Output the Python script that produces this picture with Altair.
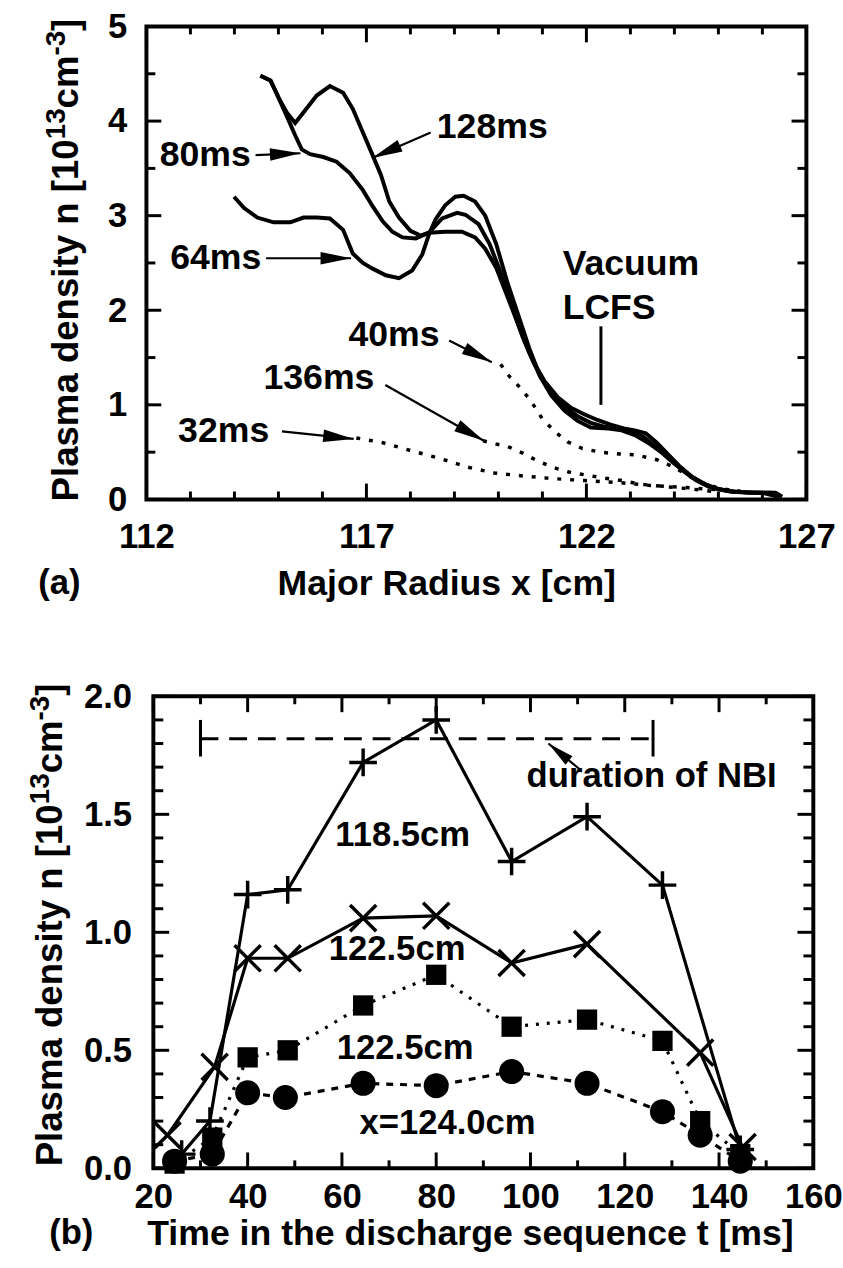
import math
import altair as alt
import pandas as pd

FONT = "Liberation Sans"

# ---------------- panel (a) data ----------------
x64 = [113.99, 114.22, 114.52, 114.89, 115.27, 115.57, 115.87, 116.17, 116.47, 116.69, 116.92, 117.14,
       117.44, 117.74, 118.04, 118.27, 118.42, 118.57, 118.79, 119.02, 119.21, 119.47, 119.7, 119.95,
       120.2, 120.45, 120.7, 120.95, 121.2, 121.5, 121.8, 122.1, 122.5, 122.8, 123.1, 123.4, 123.7,
       124.0, 124.3, 124.6, 124.9, 125.3, 125.8, 126.3, 126.45]
n64 = [3.20, 3.08, 2.98, 2.93, 2.93, 2.98, 2.98, 2.97, 2.85, 2.60, 2.50, 2.44,
       2.37, 2.34, 2.42, 2.59, 2.80, 2.96, 3.11, 3.20, 3.21, 3.15, 3.0, 2.7,
       2.3, 1.95, 1.6, 1.3, 1.1, 0.94, 0.83, 0.76, 0.75, 0.73, 0.68, 0.6, 0.5,
       0.38, 0.27, 0.18, 0.12, 0.08, 0.07, 0.07, 0.03]

x80 = [114.59, 114.82, 115.0, 115.23, 115.38, 115.53, 115.72, 116.02, 116.32, 116.62, 116.92, 117.14,
       117.37, 117.59, 117.82, 118.12, 118.42, 118.79, 119.17, 119.47, 119.7, 119.95, 120.2, 120.45,
       120.7, 120.95, 121.2, 121.5, 121.8, 122.1, 122.4, 122.7, 123.0, 123.3, 123.6, 123.9, 124.2,
       124.5, 124.8, 125.2, 125.7, 126.2, 126.4]
n80 = [4.48, 4.43, 4.25, 4.01, 3.85, 3.70, 3.65, 3.62, 3.57, 3.45, 3.27, 3.10,
       2.94, 2.83, 2.77, 2.76, 2.82, 2.83, 2.83, 2.77, 2.65, 2.45, 2.15, 1.85,
       1.55, 1.3, 1.12, 0.98, 0.88, 0.81, 0.77, 0.76, 0.72, 0.66, 0.55, 0.42, 0.3,
       0.2, 0.13, 0.09, 0.07, 0.07, 0.03]

x128 = [114.59, 114.82, 115.0, 115.19, 115.38, 115.6, 115.87, 116.17, 116.47, 116.69, 116.92, 117.14,
        117.33, 117.52, 117.74, 118.0, 118.23, 118.42, 118.72, 119.06, 119.25, 119.55, 119.8, 120.05,
        120.3, 120.55, 120.8, 121.05, 121.35, 121.65, 121.95, 122.25, 122.55, 122.85, 123.1, 123.35,
        123.6, 123.85, 124.1, 124.4, 124.7, 125.0, 125.4, 126.0, 126.35]
n128 = [4.48, 4.43, 4.25, 4.09, 3.98, 4.11, 4.27, 4.37, 4.30, 4.13, 3.88, 3.64,
        3.43, 3.15, 2.98, 2.84, 2.79, 2.82, 2.97, 3.03, 3.01, 2.91, 2.7, 2.4,
        2.05, 1.72, 1.45, 1.25, 1.08, 0.97, 0.9, 0.84, 0.79, 0.75, 0.73, 0.7,
        0.6, 0.48, 0.36, 0.24, 0.16, 0.11, 0.08, 0.07, 0.03]

x40 = [120.05, 120.25, 120.5, 120.74, 121.0, 121.3, 121.57, 121.9, 122.31, 122.76, 123.14, 123.6,
       124.0, 124.5, 125.0, 125.5]
n40 = [1.43, 1.30, 1.18, 1.04, 0.85, 0.71, 0.61, 0.54, 0.50, 0.48, 0.47, 0.42,
       0.34, 0.2, 0.12, 0.08]

x136 = [119.65, 119.91, 120.21, 120.55, 120.92, 121.3, 121.6, 121.97, 122.35, 122.8, 123.25, 123.7,
        124.15, 124.6, 124.97]
n136 = [0.62, 0.59, 0.56, 0.49, 0.40, 0.33, 0.29, 0.26, 0.23, 0.20, 0.16, 0.14,
        0.12, 0.10, 0.08]

x32 = [116.77, 117.37, 117.98, 118.70, 119.31, 119.91, 120.51, 121.24, 121.96, 122.69, 123.41,
       124.14, 124.74, 125.59]
n32 = [0.65, 0.60, 0.52, 0.43, 0.34, 0.28, 0.25, 0.22, 0.20, 0.18, 0.15,
       0.13, 0.11, 0.085]

a_labels = ["128ms", "80ms", "64ms", "40ms", "136ms", "32ms", "Vacuum", "LCFS"]
a_lab_x = [118.6, 112.3, 112.54, 116.59, 114.66, 112.72, 121.46, 121.46]
a_lab_y = [3.94, 3.64, 2.55, 1.74, 1.28, 0.72, 2.49, 2.02]

a_arr_x0 = [118.46, 114.48, 114.72, 118.88, 117.43, 115.08]
a_arr_y0 = [3.88, 3.64, 2.55, 1.68, 1.21, 0.72]
a_arr_x1 = [117.13, 115.5, 116.65, 119.85, 119.67, 116.71]
a_arr_y1 = [3.61, 3.66, 2.55, 1.45, 0.62, 0.64]

lcfs_x = [122.33]
lcfs_y0 = [1.0]
lcfs_y1 = [1.83]

a_xmajor = [112, 117, 122, 127]
a_xminor = [113, 114, 115, 116, 118, 119, 120, 121, 123, 124, 125, 126]
a_ymajor = [0, 1, 2, 3, 4, 5]
a_yminor = [0.5, 1.5, 2.5, 3.5, 4.5]

# ---------------- panel (b) data ----------------
t_plus = [26, 32, 40, 48.5, 64.5, 80, 96, 112, 128, 144.5]
n_plus = [0.06, 0.2, 1.16, 1.18, 1.72, 1.9, 1.3, 1.49, 1.2, 0.08]
t_cross = [23, 33, 40, 48.5, 64.5, 80, 96, 112, 136, 145]
n_cross = [0.14, 0.43, 0.89, 0.89, 1.06, 1.07, 0.87, 0.95, 0.49, 0.09]
t_sq = [24.5, 32.5, 40, 48.5, 64.5, 80, 96, 112, 128, 136, 144.5]
n_sq = [0.02, 0.13, 0.47, 0.5, 0.69, 0.82, 0.6, 0.63, 0.54, 0.2, 0.06]
t_ci = [24.5, 32.5, 40, 48, 64.5, 80, 96, 112, 128, 136, 144.5]
n_ci = [0.03, 0.06, 0.32, 0.3, 0.36, 0.35, 0.41, 0.36, 0.24, 0.14, 0.03]

b_labels = ["118.5cm", "122.5cm", "122.5cm", "x=124.0cm", "duration of NBI"]
b_lab_t = [72.9, 71.7, 73.4, 82.4, 125.7]
b_lab_n = [1.41, 0.93, 0.51, 0.19, 1.66]

nbi_t0 = [30]
nbi_t1 = [126]
nbi_n = [1.82]
nbi_cap_lo = [1.745]
nbi_cap_hi = [1.90]

b_arr_x0 = [110.5]
b_arr_y0 = [1.69]
b_arr_x1 = [103.8]
b_arr_y1 = [1.80]

b_xmajor = [20, 40, 60, 80, 100, 120, 140, 160]
b_xminor = [30, 50, 70, 90, 110, 130, 150]
b_ymajor = [0, 0.5, 1.0, 1.5, 2.0]
b_yminor = [0.1, 0.2, 0.3, 0.4, 0.6, 0.7, 0.8, 0.9, 1.1, 1.2, 1.3, 1.4, 1.6, 1.7, 1.8, 1.9]

# y-axis title pieces (with real superscripts)
ytitle_text = ["Plasma density n [10", "13", "cm", "-3", "]"]
ytitle_sup = [False, True, False, True, False]

# ---------------- layout constants ----------------
A_W, A_H = 667, 478
B_W, B_H = 674, 477
B_X0 = 7
ONE = pd.DataFrame({"k": [0]})
TF, SF = 37, 28  # title font size, superscript font size

# Arial/Liberation Sans Bold advance widths (per 1000 em)
ADV = {"P": 667, "l": 278, "a": 556, "s": 556, "m": 889, " ": 278, "d": 611, "e": 556,
       "n": 611, "i": 278, "t": 333, "y": 556, "[": 333, "]": 333, "1": 556, "0": 556,
       "3": 556, "c": 556, "-": 333}


def text_w(s, size):
    return sum(ADV.get(ch, 556) for ch in s) * size / 1000.0


def ytitle_layers(xb, ystart):
    out = []
    off = 0.0
    for txt, sup in zip(ytitle_text, ytitle_sup):
        fs = SF if sup else TF
        xx = xb - (13 if sup else 0)
        out.append(alt.Chart(pd.DataFrame({"t": [txt]})).mark_text(
            align="left", baseline="alphabetic", angle=270, font=FONT, fontSize=fs,
            fontWeight="bold", color="black").encode(
            x=alt.value(xx), y=alt.value(ystart - off), text="t:N"))
        off += text_w(txt, fs)
    return out


def arrow_frame(x0, y0, x1, y1, sx, sy):
    ang = [(math.degrees(math.atan2((b - a) * sx, (d - c) * sy)) + 360) % 360
           for a, c, b, d in zip(x0, y0, x1, y1)]
    return pd.DataFrame({"x0": x0, "y0": y0, "x1": x1, "y1": y1, "ang": ang})


def series(xs, ys):
    return pd.DataFrame({"x": xs, "y": ys})


HEAD = "M0,0L-0.45,2.2L0.45,2.2Z"
PLUS = "M-1,0L1,0M0,-1L0,1"
CROSS = "M-1,-1L1,1M-1,1L1,-1"


def build_panel(xs, ys, ax_x, ax_y, W, H, fx0, fx1, xmaj, xmin, ymaj, ymin, L):
    def X(f):
        return alt.X(f + ":Q", scale=xs, axis=ax_x)

    def Y(f):
        return alt.Y(f + ":Q", scale=ys, axis=ax_y)

    layers = []
    frame = alt.Chart(ONE).mark_rect(filled=False, stroke="black", strokeWidth=4).encode(
        x=alt.value(fx0), x2=alt.value(fx1), y=alt.value(0), y2=alt.value(H))
    layers.append(frame)
    for vals, ln in ((xmaj, L[0]), (xmin, L[1])):
        d = pd.DataFrame({"v": vals})
        layers.append(alt.Chart(d).mark_rule(color="black", strokeWidth=3).encode(
            x=X("v"), y=alt.value(H), y2=alt.value(H - ln)))
        layers.append(alt.Chart(d).mark_rule(color="black", strokeWidth=3).encode(
            x=X("v"), y=alt.value(0), y2=alt.value(ln)))
    for vals, ln in ((ymaj, L[2]), (ymin, L[3])):
        d = pd.DataFrame({"v": vals})
        layers.append(alt.Chart(d).mark_rule(color="black", strokeWidth=3).encode(
            y=Y("v"), x=alt.value(fx0), x2=alt.value(fx0 + ln)))
        layers.append(alt.Chart(d).mark_rule(color="black", strokeWidth=3).encode(
            y=Y("v"), x=alt.value(fx1), x2=alt.value(fx1 - ln)))
    return X, Y, layers


def axis(values, fmt, pad, title=None, tx=0, ty=0, fs=35, tfs=36):
    kw = dict(values=values, format=fmt, ticks=False, tickSize=0, domain=False, grid=False,
              labelFont=FONT, labelFontSize=fs, labelFontWeight="bold", labelColor="black",
              labelPadding=pad, labelFlush=False, labelOverlap=False)
    if title is None:
        kw["title"] = None
    else:
        kw.update(title=title, titleFont=FONT, titleFontSize=tfs, titleFontWeight="bold",
                  titleColor="black", titleX=tx, titleY=ty, titleAngle=0,
                  titleAlign="center", titleBaseline="middle")
    return alt.Axis(**kw)


# ---------------- panel (a) ----------------
sxa = alt.Scale(domain=[112, 127], nice=False, zero=False)
sya = alt.Scale(domain=[0, 5], nice=False, zero=False)
axa_x = axis(a_xmajor, "d", 21, "Major Radius x [cm]", 303, 85)
axa_y = axis(a_ymajor, "d", 20)
XA, YA, la = build_panel(sxa, sya, axa_x, axa_y, A_W, A_H, 0, A_W,
                         a_xmajor, a_xminor, a_ymajor, a_yminor, (16, 8, 15, 9))

anchor = alt.Chart(ONE).mark_rect(opacity=0).encode(
    x=alt.value(-148), x2=alt.value(695), y=alt.value(-20), y2=alt.value(1248))
la.insert(0, anchor)

for xs_, ys_ in ((x64, n64), (x80, n80), (x128, n128)):
    la.append(alt.Chart(series(xs_, ys_)).mark_line(color="black", strokeWidth=4).encode(
        x=XA("x"), y=YA("y")))
for xs_, ys_ in ((x40, n40), (x136, n136), (x32, n32)):
    la.append(alt.Chart(series(xs_, ys_)).mark_line(color="black", strokeWidth=3.5,
                                                    strokeDash=[4, 9]).encode(
        x=XA("x"), y=YA("y")))

arrA = arrow_frame(a_arr_x0, a_arr_y0, a_arr_x1, a_arr_y1, A_W / 15, A_H / 5)
la.append(alt.Chart(arrA).mark_rule(color="black", strokeWidth=2.2).encode(
    x=XA("x0"), x2="x1:Q", y=YA("y0"), y2="y1:Q"))
la.append(alt.Chart(arrA).mark_point(shape=HEAD, filled=True, color="black", size=784,
                                     opacity=1).encode(
    x=XA("x1"), y=YA("y1"), angle=alt.Angle("ang:Q", scale=None)))

lc = pd.DataFrame({"x": lcfs_x, "y0": lcfs_y0, "y1": lcfs_y1})
la.append(alt.Chart(lc).mark_rule(color="black", strokeWidth=3).encode(
    x=XA("x"), y=YA("y0"), y2="y1:Q"))

labA = pd.DataFrame({"x": a_lab_x, "y": a_lab_y, "t": a_labels})
la.append(alt.Chart(labA).mark_text(align="left", baseline="middle", font=FONT, fontSize=36,
                                    fontWeight="bold", color="black").encode(
    x=XA("x"), y=YA("y"), text="t:N"))
la.append(alt.Chart(pd.DataFrame({"t": ["(a)"]})).mark_text(
    align="center", baseline="middle", font=FONT, fontSize=35, fontWeight="bold",
    color="black").encode(x=alt.value(-88), y=alt.value(563), text="t:N"))
la.extend(ytitle_layers(79 - 148, 480))

panel_a = alt.layer(*la).properties(width=A_W, height=A_H)

# ---------------- panel (b) ----------------
sxb = alt.Scale(domain=[20, 160], range=[B_X0, B_W], nice=False, zero=False)
syb = alt.Scale(domain=[0, 2], nice=False, zero=False)
axb_x = axis(b_xmajor, "d", 12, "Time in the discharge sequence t [ms]", 327, 66)
axb_y = axis(b_ymajor, ".1f", 15)
XB, YB, lb = build_panel(sxb, syb, axb_x, axb_y, B_W, B_H, B_X0, B_W,
                         b_xmajor, b_xminor, b_ymajor, b_yminor, (16, 8, 16, 10))

nbi = pd.DataFrame({"t0": nbi_t0, "t1": nbi_t1, "n": nbi_n, "lo": nbi_cap_lo, "hi": nbi_cap_hi})
lb.append(alt.Chart(nbi).mark_rule(color="black", strokeWidth=3, strokeDash=[18, 11]).encode(
    x=XB("t0"), x2="t1:Q", y=YB("n")))
lb.append(alt.Chart(nbi).mark_rule(color="black", strokeWidth=3).encode(
    x=XB("t0"), y=YB("lo"), y2="hi:Q"))
lb.append(alt.Chart(nbi).mark_rule(color="black", strokeWidth=3).encode(
    x=XB("t1"), y=YB("lo"), y2="hi:Q"))

sp = series(t_plus, n_plus)
sc = series(t_cross, n_cross)
ss = series(t_sq, n_sq)
sci = series(t_ci, n_ci)
lb.append(alt.Chart(sp).mark_line(color="black", strokeWidth=3.2).encode(x=XB("x"), y=YB("y")))
lb.append(alt.Chart(sc).mark_line(color="black", strokeWidth=3.2).encode(x=XB("x"), y=YB("y")))
lb.append(alt.Chart(ss).mark_line(color="black", strokeWidth=3.2, strokeDash=[3, 8]).encode(
    x=XB("x"), y=YB("y")))
lb.append(alt.Chart(sci).mark_line(color="black", strokeWidth=3.2, strokeDash=[7, 7]).encode(
    x=XB("x"), y=YB("y")))
lb.append(alt.Chart(sp).mark_point(shape=PLUS, filled=False, color="black", strokeWidth=3.5,
                                   size=784, opacity=1).encode(x=XB("x"), y=YB("y")))
lb.append(alt.Chart(sc).mark_point(shape=CROSS, filled=False, color="black", strokeWidth=3.5,
                                   size=700, opacity=1).encode(x=XB("x"), y=YB("y")))
lb.append(alt.Chart(ss).mark_point(shape="square", filled=True, color="black",
                                   size=420, opacity=1).encode(x=XB("x"), y=YB("y")))
lb.append(alt.Chart(sci).mark_point(shape="circle", filled=True, color="black",
                                    size=640, opacity=1).encode(x=XB("x"), y=YB("y")))

arrB = arrow_frame(b_arr_x0, b_arr_y0, b_arr_x1, b_arr_y1, 667 / 140, B_H / 2)
lb.append(alt.Chart(arrB).mark_rule(color="black", strokeWidth=2.2).encode(
    x=XB("x0"), x2="x1:Q", y=YB("y0"), y2="y1:Q"))
lb.append(alt.Chart(arrB).mark_point(shape=HEAD, filled=True, color="black", size=600,
                                     opacity=1).encode(
    x=XB("x1"), y=YB("y1"), angle=alt.Angle("ang:Q", scale=None)))

labB = pd.DataFrame({"x": b_lab_t, "y": b_lab_n, "t": b_labels})
lb.append(alt.Chart(labB).mark_text(align="center", baseline="middle", font=FONT, fontSize=35,
                                    fontWeight="bold", color="black").encode(
    x=XB("x"), y=YB("y"), text="t:N"))
lb.append(alt.Chart(pd.DataFrame({"t": ["(b)"]})).mark_text(
    align="center", baseline="middle", font=FONT, fontSize=35, fontWeight="bold",
    color="black").encode(x=alt.value(-76), y=alt.value(543), text="t:N"))
lb.extend(ytitle_layers(63 - 148, 475))

panel_b = alt.layer(*lb).properties(width=B_W, height=B_H)

chart = alt.vconcat(panel_a, panel_b, spacing=199, bounds="flush").properties(
    padding=0, background="white"
).configure_view(stroke=None)

chart.save("out.html", embed_options={"renderer": "svg", "actions": False})
